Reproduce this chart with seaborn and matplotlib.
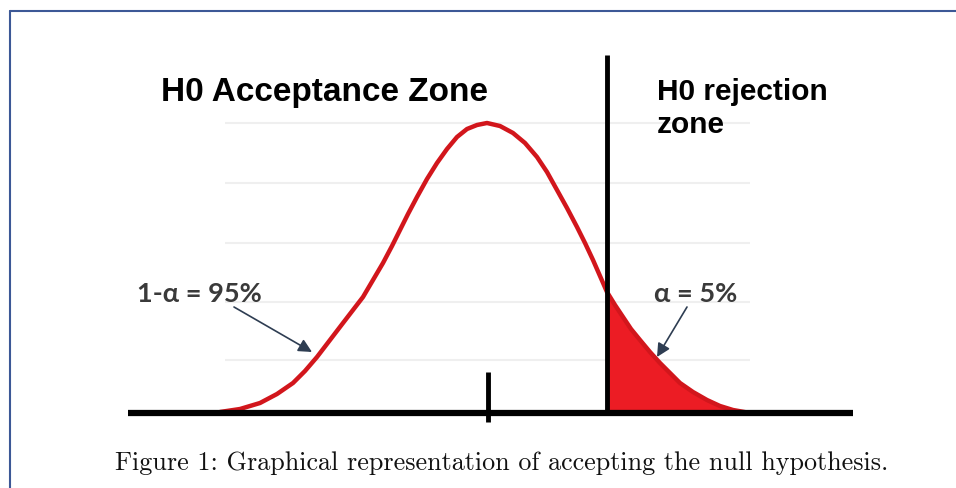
import numpy as np
import matplotlib
matplotlib.use('Agg')
import matplotlib.pyplot as plt
from matplotlib.lines import Line2D
import seaborn as sns

# curve: horizontal position and height above the baseline
curve_x = [220, 240, 260, 277, 293, 305, 317, 330, 343, 353, 363, 373, 383, 392, 400, 408, 417, 427,
           437, 447, 457, 467, 477, 487, 500, 513, 525, 537, 547, 557, 567, 577, 585, 593, 600, 607,
           615, 623, 631, 640, 650, 660, 670, 680, 693, 707, 720, 733, 750]
curve_y = [1, 4, 10, 19, 30, 42, 56, 73, 90, 103, 116, 133, 150, 167, 183, 199, 216, 234,
           250, 264, 276, 284, 288, 290, 287, 280, 270, 256, 241, 223, 205, 186, 170, 153, 137, 121,
           108, 96, 84, 73, 61, 50, 40, 30, 21, 13, 7, 3, 0]
critical_x = 607
mean_x = 488
ghost_grid = [290, 230, 170, 111, 53]

title_left = "H0 Acceptance Zone"
title_right = "H0 rejection\nzone"
label_left = "1-α = 95%"
label_right = "α = 5%"
caption = "Figure 1: Graphical representation of accepting the null hypothesis."

sns.set_style("white")
fig = plt.figure(figsize=(9.56, 4.88), dpi=100)
ax = fig.add_axes([0, 0, 1, 1])
ax.set_xlim(0, 956)
ax.set_ylim(-75, 413)
ax.axis("off")

cx = np.array(curve_x)
cy = np.array(curve_y)

ax.hlines(ghost_grid, 225, 750, color="#efefef", lw=1.5, zorder=0)

mask = cx >= critical_x
ax.fill_between(cx[mask], cy[mask], 0, color="#ec1c24", lw=0, zorder=1)
sns.lineplot(x=cx, y=cy, sort=False, color="#d2161c", lw=3.2, ax=ax, zorder=2)

ax.hlines(0, 128, 853, color="black", lw=4.5, zorder=3)
ax.vlines(critical_x, 0, 358, color="black", lw=3.5, zorder=3)
ax.vlines(mean_x, -9, 41, color="black", lw=3.5, zorder=3)

bold = dict(fontfamily="Liberation Sans", fontweight="bold", color="black")
ax.text(161, 321, title_left, fontsize=24, ha="left", va="center", **bold)
ax.text(657, 304.5, title_right, fontsize=21.5, ha="left", va="center", linespacing=1.22, **bold)

lab = dict(fontfamily="Lato", fontweight="bold", color="#3a3a3a", fontsize=19.5)
arrow = dict(arrowstyle="-|>", color="#2e3d52", lw=1.2, mutation_scale=20, shrinkA=0, shrinkB=0)
ax.annotate("", xy=(312, 61), xytext=(234, 106), arrowprops=arrow)
ax.annotate("", xy=(657, 56), xytext=(687, 106), arrowprops=arrow)
ax.text(137, 119, label_left, ha="left", va="center", **lab)
ax.text(654, 119, label_right, ha="left", va="center", **lab)

ax.text(501.5, -50, caption, fontfamily="cmr10", fontsize=18.8, ha="center", va="center", color="#111111")

fig.add_artist(Line2D([10 / 956, 1], [1 - 11 / 488] * 2, transform=fig.transFigure, color="#3c5896", lw=1.5))
fig.add_artist(Line2D([10 / 956] * 2, [0, 1 - 11 / 488], transform=fig.transFigure, color="#3c5896", lw=1.5))

fig.savefig("out.png", dpi=100)
